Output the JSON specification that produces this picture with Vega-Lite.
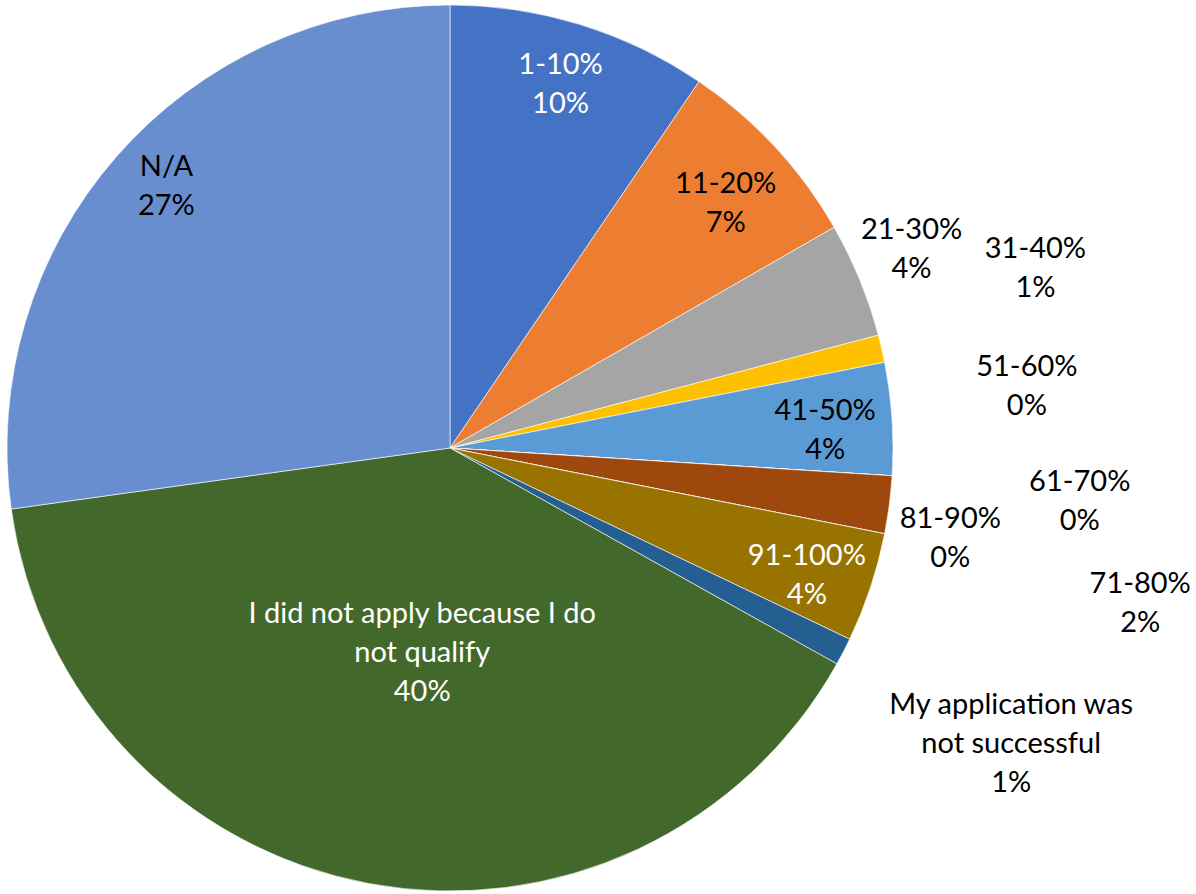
{
  "$schema": "https://vega.github.io/schema/vega-lite/v6.json",
  "autosize": {"type": "none"},
  "padding": {"left": 0, "top": 0, "right": 296, "bottom": 0},
  "width": 900,
  "height": 896,
  "background": "white",
  "config": {"view": {"stroke": null}, "text": {"font": "Lato", "fontSize": 29, "lineHeight": 39, "lineBreak": "\n", "align": "center", "baseline": "middle"}},
  "data": {"values": [
    {"category": "1-10%", "value": 9.5, "label": "1-10%\n10%"},
    {"category": "11-20%", "value": 7.2, "label": "11-20%\n7%"},
    {"category": "21-30%", "value": 4.2, "label": "21-30%\n4%"},
    {"category": "31-40%", "value": 1.0, "label": "31-40%\n1%"},
    {"category": "41-50%", "value": 4.1, "label": "41-50%\n4%"},
    {"category": "51-60%", "value": 0, "label": "51-60%\n0%"},
    {"category": "61-70%", "value": 0, "label": "61-70%\n0%"},
    {"category": "71-80%", "value": 2.1, "label": "71-80%\n2%"},
    {"category": "81-90%", "value": 0, "label": "81-90%\n0%"},
    {"category": "91-100%", "value": 4.0, "label": "91-100%\n4%"},
    {"category": "My application was not successful", "value": 1.0, "label": "My application was\nnot successful\n1%"},
    {"category": "I did not apply because I do not qualify", "value": 39.7, "label": "I did not apply because I do\nnot qualify\n40%"},
    {"category": "N/A", "value": 27.2, "label": "N/A\n27%"}
  ]},
  "transform": [{"window": [{"op": "row_number", "as": "idx"}]}],
  "encoding": {
    "theta": {"field": "value", "type": "quantitative", "stack": true},
    "order": {"field": "idx", "type": "quantitative"}
  },
  "layer": [
    {
      "mark": {"type": "arc", "outerRadius": 443, "stroke": "white", "strokeWidth": 0.6},
      "encoding": {
        "color": {"field": "category", "type": "nominal", "legend": null,
          "scale": {"domain": ["1-10%", "11-20%", "21-30%", "31-40%", "41-50%", "51-60%", "61-70%", "71-80%", "81-90%", "91-100%", "My application was not successful", "I did not apply because I do not qualify", "N/A"],
                    "range": ["#4472C4", "#ED7D31", "#A5A5A5", "#FFC000", "#5B9BD5", "#70AD47", "#264478", "#9E480E", "#636363", "#997300", "#255E91", "#43682B", "#698ED0"]}}
      }
    },
    {
      "mark": {"type": "text", "radius": 376, "color": "white", "dy": -24},
      "encoding": {"text": {"condition": {"test": "datum.category === '1-10%'", "field": "label"}, "value": ""}}
    },
    {
      "mark": {"type": "text", "radius": 376, "color": "black", "dy": -8},
      "encoding": {"text": {"condition": {"test": "datum.category === '11-20%'", "field": "label"}, "value": ""}}
    },
    {
      "mark": {"type": "text", "radius": 376, "color": "black", "dy": -12},
      "encoding": {"text": {"condition": {"test": "datum.category === '41-50%'", "field": "label"}, "value": ""}}
    },
    {
      "mark": {"type": "text", "radius": 376, "color": "white", "dy": -10},
      "encoding": {"text": {"condition": {"test": "datum.category === '91-100%'", "field": "label"}, "value": ""}}
    },
    {
      "mark": {"type": "text", "radius": 376, "color": "black", "dy": -34},
      "encoding": {"text": {"condition": {"test": "datum.category === 'N/A'", "field": "label"}, "value": ""}}
    },
    {
      "mark": {"type": "text", "radius": 205, "color": "white", "dx": 10, "dy": -35},
      "encoding": {"text": {"condition": {"test": "datum.category === 'I did not apply because I do not qualify'", "field": "label"}, "value": ""}}
    },
    {
      "mark": {"type": "text", "radius": 500, "color": "black", "dx": -1, "dy": -28},
      "encoding": {"text": {"condition": {"test": "datum.category === '21-30%'", "field": "label"}, "value": ""}}
    },
    {
      "mark": {"type": "text", "radius": 612, "color": "black", "dx": -11, "dy": -62},
      "encoding": {"text": {"condition": {"test": "datum.category === '31-40%'", "field": "label"}, "value": ""}}
    },
    {
      "mark": {"type": "text", "radius": 575, "color": "black", "dx": 3, "dy": -117},
      "encoding": {"text": {"condition": {"test": "datum.category === '51-60%'", "field": "label"}, "value": ""}}
    },
    {
      "mark": {"type": "text", "radius": 630, "color": "black", "dx": 1, "dy": -6},
      "encoding": {"text": {"condition": {"test": "datum.category === '61-70%'", "field": "label"}, "value": ""}}
    },
    {
      "mark": {"type": "text", "radius": 700, "color": "black", "dx": -4, "dy": 46},
      "encoding": {"text": {"condition": {"test": "datum.category === '71-80%'", "field": "label"}, "value": ""}}
    },
    {
      "mark": {"type": "text", "radius": 513, "color": "black", "dx": -3, "dy": -28},
      "encoding": {"text": {"condition": {"test": "datum.category === '81-90%'", "field": "label"}, "value": ""}}
    },
    {
      "mark": {"type": "text", "radius": 633, "color": "black", "dx": -1, "dy": -34},
      "encoding": {"text": {"condition": {"test": "datum.category === 'My application was not successful'", "field": "label"}, "value": ""}}
    }
  ]
}
